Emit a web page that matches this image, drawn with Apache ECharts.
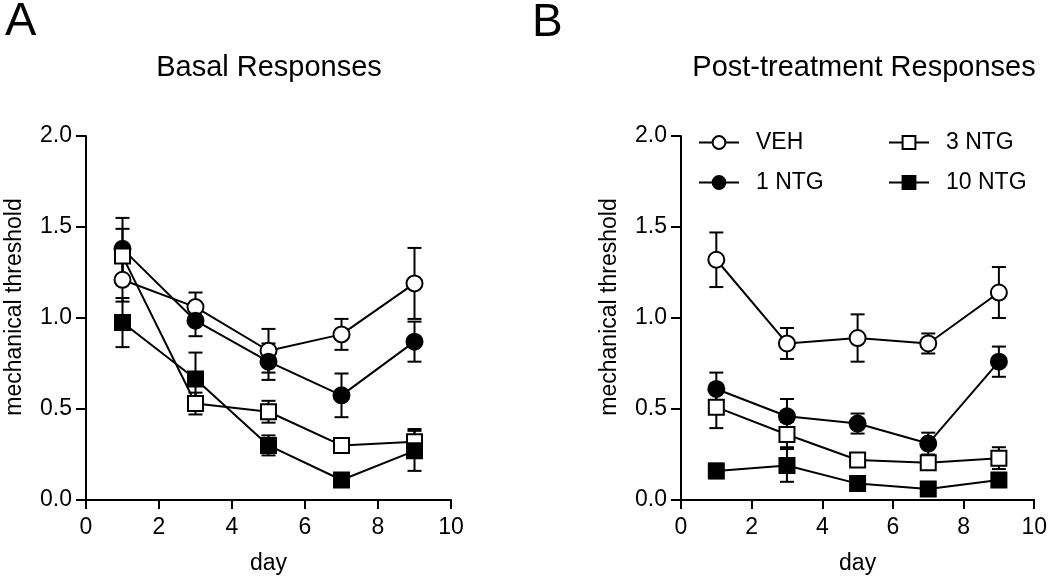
<!DOCTYPE html>
<html>
<head>
<meta charset="utf-8">
<script src="https://cdn.jsdelivr.net/npm/echarts@6/dist/echarts.min.js"></script>
<style>
  html, body { margin: 0; padding: 0; background: #fff; }
  #chart { width: 1050px; height: 581px; }
</style>
</head>
<body>
<div id="chart"></div>
<script>
// days of measurement
var days = [1, 3, 5, 7, 9];
var seriesNames = ["VEH", "1 NTG", "3 NTG", "10 NTG"];

// A - basal responses (mean, SEM)
var basalVeh = [1.21, 1.06, 0.82, 0.91, 1.19];
var basalVehSem = [0.12, 0.08, 0.12, 0.085, 0.195];
var basal1Ntg = [1.38, 0.985, 0.76, 0.575, 0.87];
var basal1NtgSem = [0.17, 0.085, 0.1, 0.12, 0.11];
var basal3Ntg = [1.34, 0.53, 0.485, 0.3, 0.32];
var basal3NtgSem = [0.15, 0.06, 0.06, 0.03, 0.07];
var basal10Ntg = [0.975, 0.665, 0.3, 0.11, 0.27];
var basal10NtgSem = [0.135, 0.145, 0.055, 0.02, 0.11];

// B - post-treatment responses (mean, SEM)
var postVeh = [1.32, 0.86, 0.89, 0.86, 1.14];
var postVehSem = [0.15, 0.085, 0.13, 0.055, 0.14];
var post1Ntg = [0.61, 0.46, 0.42, 0.31, 0.76];
var post1NtgSem = [0.09, 0.095, 0.055, 0.06, 0.083];
var post3Ntg = [0.51, 0.36, 0.22, 0.205, 0.23];
var post3NtgSem = [0.115, 0.07, 0.03, 0.04, 0.06];
var post10Ntg = [0.16, 0.19, 0.09, 0.06, 0.11];
var post10NtgSem = [0.04, 0.09, 0.02, 0.02, 0.03];

var FONT = "Liberation Sans";
var symbolStyles = {
  "VEH": { symbol: "circle", fill: "#fff" },
  "1 NTG": { symbol: "circle", fill: "#000" },
  "3 NTG": { symbol: "rect", fill: "#fff" },
  "10 NTG": { symbol: "rect", fill: "#000" }
};

function lineSeries(name, vals, idx) {
  var st = symbolStyles[name];
  return {
    name: name,
    type: "line",
    xAxisIndex: idx,
    yAxisIndex: idx,
    data: days.map(function (d, i) { return [d, vals[i]]; }),
    symbol: st.symbol,
    symbolSize: st.symbol == "circle" ? 16 : 15,
    showAllSymbol: true,
    lineStyle: { color: "#000", width: 2 },
    itemStyle: { color: st.fill, borderColor: "#000", borderWidth: 2 },
    emphasis: { disabled: true },
    z: 3
  };
}

// vertical SEM bars with caps
function errorSeries(vals, sems, idx) {
  return {
    type: "custom",
    xAxisIndex: idx,
    yAxisIndex: idx,
    data: days.map(function (d, i) { return [d, vals[i] - sems[i], vals[i] + sems[i]]; }),
    encode: { x: 0, y: [1, 2] },
    z: 1,
    silent: true,
    renderItem: function (params, api) {
      var x = api.value(0);
      var lo = api.coord([x, api.value(1)]);
      var hi = api.coord([x, api.value(2)]);
      var w = 7;
      var s = { stroke: "#000", lineWidth: 2 };
      return {
        type: "group",
        children: [
          { type: "line", shape: { x1: lo[0], y1: lo[1], x2: hi[0], y2: hi[1] }, style: s },
          { type: "line", shape: { x1: hi[0] - w, y1: hi[1], x2: hi[0] + w, y2: hi[1] }, style: s },
          { type: "line", shape: { x1: lo[0] - w, y1: lo[1], x2: lo[0] + w, y2: lo[1] }, style: s }
        ]
      };
    }
  };
}

function xAxis(idx) {
  return {
    type: "value",
    gridIndex: idx,
    min: 0,
    max: 10,
    interval: 2,
    name: "day",
    nameLocation: "middle",
    nameGap: 52,
    nameTextStyle: { fontFamily: FONT, fontSize: 23, color: "#000" },
    axisLine: { lineStyle: { color: "#000", width: 2 } },
    axisTick: { length: 9, lineStyle: { color: "#000", width: 2 } },
    axisLabel: { fontFamily: FONT, fontSize: 23, color: "#000", margin: 16 },
    splitLine: { show: false }
  };
}

function yAxis(idx) {
  return {
    type: "value",
    gridIndex: idx,
    min: 0,
    max: 2,
    interval: 0.5,
    name: "mechanical threshold",
    nameLocation: "middle",
    nameGap: 60,
    nameTextStyle: { fontFamily: FONT, fontSize: 23, color: "#000", padding: [0, 0, 0, 22] },
    axisLine: { show: true, lineStyle: { color: "#000", width: 2 } },
    axisTick: { show: true, length: 10, lineStyle: { color: "#000", width: 2 } },
    axisLabel: {
      fontFamily: FONT, fontSize: 23, color: "#000", margin: 14,
      formatter: function (v) { return v.toFixed(1); }
    },
    splitLine: { show: false }
  };
}

var chart = echarts.init(document.getElementById("chart"));
var option = {
  backgroundColor: "#fff",
  animation: false,
  title: [
    { text: "A", left: 0, top: -6, textStyle: { fontFamily: FONT, fontSize: 47, fontWeight: "normal", color: "#000" } },
    { text: "B", left: 527, top: -5, textStyle: { fontFamily: FONT, fontSize: 46, fontWeight: "normal", color: "#000" } },
    { text: "Basal Responses", left: 264, top: 48, textAlign: "center", textStyle: { fontFamily: FONT, fontSize: 29, fontWeight: "normal", color: "#000" } },
    { text: "Post-treatment Responses", left: 859, top: 48, textAlign: "center", textStyle: { fontFamily: FONT, fontSize: 29, fontWeight: "normal", color: "#000" } }
  ],
  legend: [
    {
      data: ["VEH", "1 NTG"],
      orient: "vertical",
      left: 693,
      top: 126,
      itemWidth: 40,
      itemHeight: 16,
      itemGap: 17,
      textStyle: { fontFamily: FONT, fontSize: 23, color: "#000", padding: [0, 0, 0, 12] },
      selectedMode: false
    },
    {
      data: ["3 NTG", "10 NTG"],
      orient: "vertical",
      left: 883,
      top: 126,
      itemWidth: 40,
      itemHeight: 16,
      itemGap: 17,
      textStyle: { fontFamily: FONT, fontSize: 23, color: "#000", padding: [0, 0, 0, 12] },
      selectedMode: false
    }
  ],
  grid: [
    { left: 86, top: 136, width: 365, height: 364 },
    { left: 681, top: 136, width: 365, height: 364 }
  ],
  xAxis: [xAxis(0), xAxis(1)],
  yAxis: [yAxis(0), yAxis(1)],
  series: [
    errorSeries(basalVeh, basalVehSem, 0),
    errorSeries(basal1Ntg, basal1NtgSem, 0),
    errorSeries(basal3Ntg, basal3NtgSem, 0),
    errorSeries(basal10Ntg, basal10NtgSem, 0),
    lineSeries(seriesNames[0], basalVeh, 0),
    lineSeries(seriesNames[1], basal1Ntg, 0),
    lineSeries(seriesNames[2], basal3Ntg, 0),
    lineSeries(seriesNames[3], basal10Ntg, 0),
    errorSeries(postVeh, postVehSem, 1),
    errorSeries(post1Ntg, post1NtgSem, 1),
    errorSeries(post3Ntg, post3NtgSem, 1),
    errorSeries(post10Ntg, post10NtgSem, 1),
    lineSeries(seriesNames[0], postVeh, 1),
    lineSeries(seriesNames[1], post1Ntg, 1),
    lineSeries(seriesNames[2], post3Ntg, 1),
    lineSeries(seriesNames[3], post10Ntg, 1)
  ]
};
chart.setOption(option);
</script>
</body>
</html>
